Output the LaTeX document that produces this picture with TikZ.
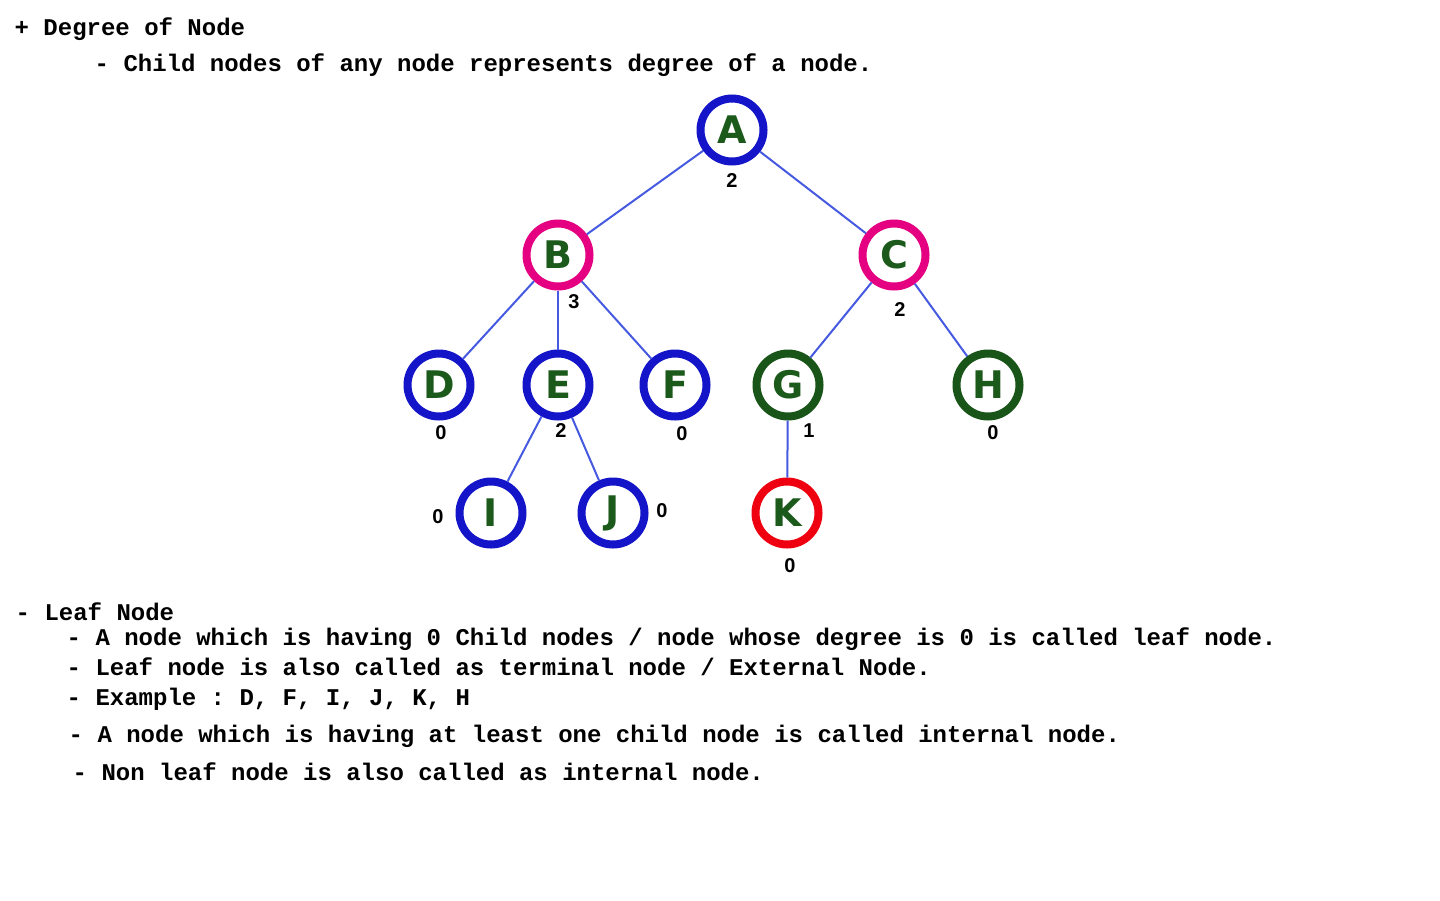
\documentclass[tikz,border=0pt]{standalone}
\usepackage{fontspec}
\setmonofont{Liberation Mono}
\newfontfamily\numfont{Liberation Sans}
\newfontfamily\letfont{DejaVu Sans}
\definecolor{ringblue}{RGB}{20,20,200}
\definecolor{ringpink}{RGB}{228,0,128}
\definecolor{ringgreen}{RGB}{25,85,25}
\definecolor{ringred}{RGB}{238,0,16}
\definecolor{letgreen}{RGB}{28,90,28}
\definecolor{edgeblue}{RGB}{70,90,225}
\begin{document}
\begin{tikzpicture}[x=1pt,y=-1pt,
  tnode/.style={circle, line width=8pt, minimum size=63pt, inner sep=0pt,
    font=\letfont\bfseries\fontsize{38}{38}\selectfont, text=letgreen, fill=white},
  bluenode/.style={tnode, draw=ringblue},
  pinknode/.style={tnode, draw=ringpink},
  greennode/.style={tnode, draw=ringgreen},
  rednode/.style={tnode, draw=ringred},
  deg/.style={font=\numfont\bfseries\fontsize{20}{20}\selectfont, inner sep=0pt},
  txt/.style={font=\ttfamily\bfseries\fontsize{24}{28}\selectfont, anchor=base west, inner sep=0pt},
  link/.style={draw=edgeblue, line width=2pt}]
\useasboundingbox[fill=white] (0,0) rectangle (1440,900);

% text
\node[txt] (t1) at (14.5,35) {+ Degree of Node};
\node[txt] (t2) at (94.5,71) {- Child nodes of any node represents degree of a node.};
\node[txt] (t3) at (15.5,620) {- Leaf Node};
\node[txt] (t4) at (66.5,645) {- A node which is having 0 Child nodes / node whose degree is 0 is called leaf node.};
\node[txt] (t5) at (66.5,675) {- Leaf node is also called as terminal node / External Node.};
\node[txt] (t6) at (66.5,705) {- Example : D, F, I, J, K, H};
\node[txt] (t7) at (68.5,742) {- A node which is having at least one child node is called internal node.};
\node[txt] (t8) at (72.5,780) {- Non leaf node is also called as internal node.};

\coordinate (pA) at (732,130);
\coordinate (pB) at (558,255);
\coordinate (pC) at (894,255);
\coordinate (pD) at (439,385);
\coordinate (pE) at (558,385);
\coordinate (pF) at (675,385);
\coordinate (pG) at (788,385);
\coordinate (pH) at (988,385);
\coordinate (pI) at (491,513);
\coordinate (pJ) at (613,513);
\coordinate (pK) at (787,513);

\node[bluenode] (A) at (pA) {A};
\node[pinknode] (B) at (pB) {B};
\node[pinknode] (C) at (pC) {C};
\node[bluenode] (D) at (pD) {D};
\node[bluenode] (E) at (pE) {E};
\node[bluenode] (F) at (pF) {F};
\node[greennode] (G) at (pG) {G};
\node[greennode] (H) at (pH) {H};
\node[bluenode] (I) at (pI) {I};
\node[bluenode] (J) at (pJ) {J};
\node[rednode] (K) at (pK) {K};

\draw[link] (A) -- (B);
\draw[link] (A) -- (C);
\draw[link] (B) -- (D);
\draw[link] (B) -- (E);
\draw[link] (B) -- (F);
\draw[link] (C) -- (G);
\draw[link] (C) -- (H);
\draw[link] (E) -- (I);
\draw[link] (E) -- (J);
\draw[link] (G) -- (K);

% degree labels
\node[deg] (dA) at (732,181) {2};
\node[deg] (dB) at (574,302) {3};
\node[deg] (dC) at (900,310) {2};
\node[deg] (dD) at (441,433) {0};
\node[deg] (dE) at (561,431) {2};
\node[deg] (dF) at (682,434) {0};
\node[deg] (dG) at (809,431) {1};
\node[deg] (dH) at (993,433) {0};
\node[deg] (dI) at (438,517) {0};
\node[deg] (dJ) at (662,511) {0};
\node[deg] (dK) at (790,566) {0};
\end{tikzpicture}
\end{document}
